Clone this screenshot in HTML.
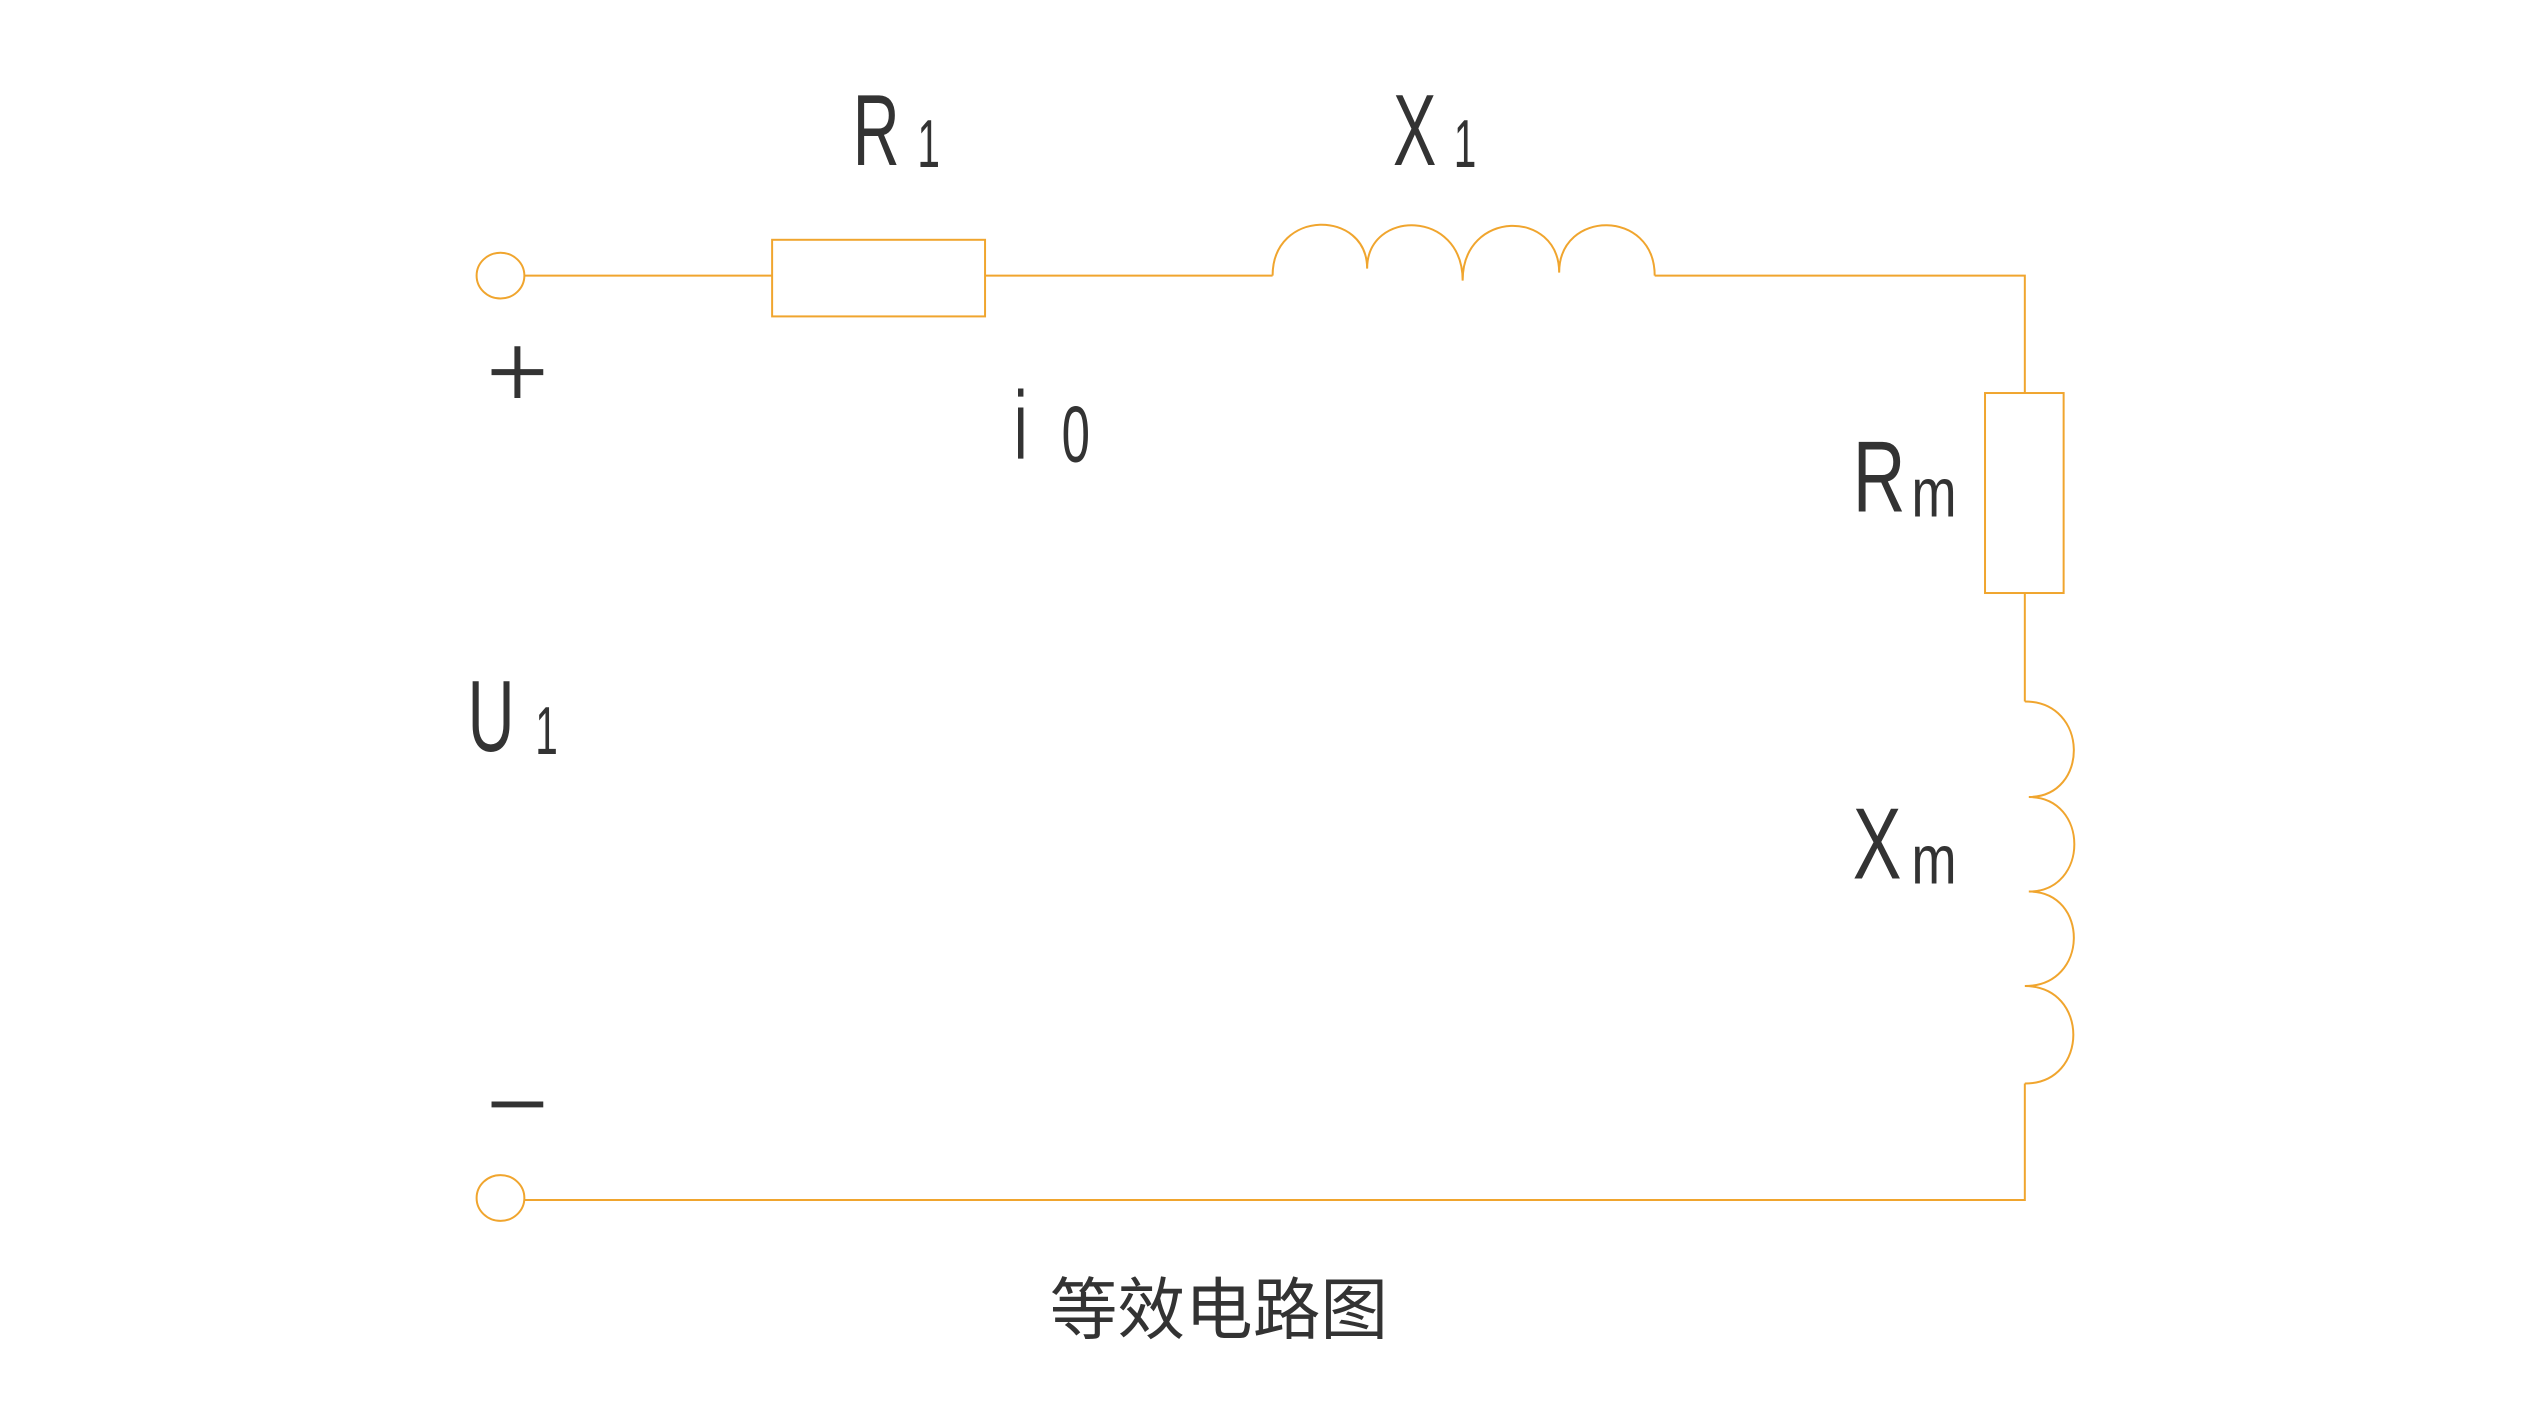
<!DOCTYPE html>
<html><head><meta charset="utf-8"><style>
html,body{margin:0;padding:0;background:#fff;}
svg{display:block;}
</style></head><body>
<svg width="2528" height="1422" viewBox="0 0 2528 1422" xmlns="http://www.w3.org/2000/svg">
<g transform="scale(0.995)">
<g fill="none" stroke="#f0a52e" stroke-width="2">
  <ellipse cx="503" cy="277" rx="24" ry="23"/>
  <ellipse cx="503" cy="1204" rx="24" ry="23"/>
  <line x1="527" y1="277" x2="776" y2="277"/>
  <rect x="776" y="241" width="214" height="77"/>
  <line x1="990" y1="277" x2="1279" y2="277"/>
  <path d="M1279 277 C1279 210 1374 210 1374 270 C1374 210 1470 210 1470 282 C1470 210 1567 210 1567 274 C1567 210 1663 210 1663 277"/>
  <polyline points="1663,277 2035,277 2035,395"/>
  <rect x="1995" y="395" width="79" height="201"/>
  <line x1="2035" y1="596" x2="2035" y2="705"/>
  <path d="M2035 705 C2100 705 2100 801 2039 801 C2100 801 2100 896 2039 896 C2100 896 2100 991 2035 991 C2100 991 2100 1089 2035 1089"/>
  <polyline points="2035,1089 2035,1206 527,1206"/>
</g>
<g fill="#333" font-family="Liberation Sans, sans-serif">
  <text transform="translate(857,166) scale(0.64,1)" font-size="102">R</text>
  <text transform="translate(922,168) scale(0.6,1)" font-size="68">1</text>
  <text transform="translate(1400,166) scale(0.64,1)" font-size="102">X</text>
  <text transform="translate(1461,168) scale(0.6,1)" font-size="68">1</text>
  <text transform="translate(1019,461) scale(0.64,1)" font-size="97">i</text>
  <text transform="translate(1067,464) scale(0.64,1)" font-size="80">0</text>
  <text transform="translate(470,755) scale(0.64,1)" font-size="102">U</text>
  <text transform="translate(538,758) scale(0.6,1)" font-size="68">1</text>
  <text transform="translate(1862,514) scale(0.72,1)" font-size="102">R</text>
  <text transform="translate(1921,519) scale(0.78,1)" font-size="70">m</text>
  <text transform="translate(1862,883) scale(0.72,1)" font-size="102">X</text>
  <text transform="translate(1921,888) scale(0.78,1)" font-size="70">m</text>
  <text x="1055" y="1340" font-size="68" font-family="Liberation Sans, Noto Sans CJK SC, sans-serif">等效电路图</text>
</g>
<g stroke="#333" stroke-width="6">
  <line x1="494" y1="374" x2="546" y2="374"/>
  <line x1="520" y1="348" x2="520" y2="400"/>
  <line x1="494" y1="1110" x2="546" y2="1110"/>
</g>
</g>
</svg>
</body></html>
